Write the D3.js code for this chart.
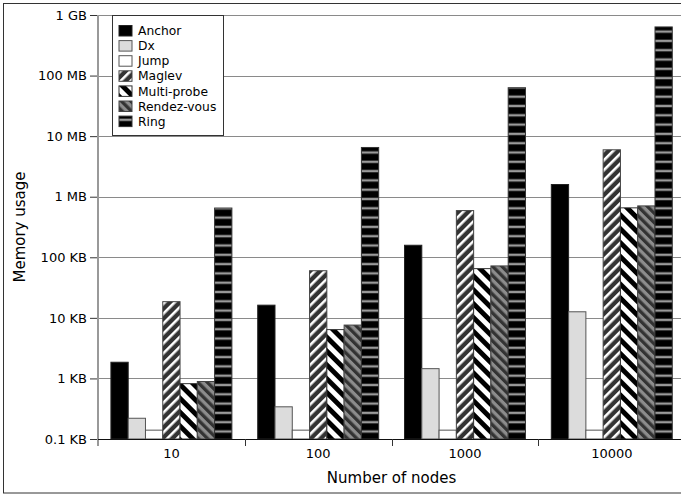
<!DOCTYPE html>
<html>
<head>
<meta charset="utf-8">
<script src="https://cdn.jsdelivr.net/npm/d3@7"></script>
<style>
  body { margin: 0; background: #fff; }
  svg { display: block; }
  text { font-family: "DejaVu Sans", sans-serif; fill: #000; }
</style>
</head>
<body>
<svg id="chart" width="681" height="495"></svg>
<script>
// Memory usage per algorithm (values in KB), one entry per cluster size
const categories = ["10", "100", "1000", "10000"];
const seriesNames = ["Anchor", "Dx", "Jump", "Maglev", "Multi-probe", "Rendez-vous", "Ring"];
const anchor     = [1.85, 16.2, 158, 1590];
const dx         = [0.22, 0.34, 1.45, 12.6];
const jump       = [0.14, 0.14, 0.14, 0.14];
const maglev     = [18.5, 60, 590, 5950];
const multiProbe = [0.82, 6.4, 65, 655];
const rendezVous = [0.89, 7.6, 72, 705];
const ring       = [650, 6500, 63000, 635000];
const yTicks      = [0.1, 1, 10, 100, 1e3, 1e4, 1e5, 1e6];
const yTickLabels = ["0.1 KB", "1 KB", "10 KB", "100 KB", "1 MB", "10 MB", "100 MB", "1 GB"];

const seriesValues = [anchor, dx, jump, maglev, multiProbe, rendezVous, ring];
const series = seriesNames.map((name, i) => ({ name, values: seriesValues[i] }));

const svg = d3.select("#chart");
const plot = { left: 98, right: 685.2, top: 15, bottom: 439 };

// Fill styles
const defs = svg.append("defs");
function stripes(id, size, angle, bg, fg, fgWidth) {
  const p = defs.append("pattern")
    .attr("id", id).attr("patternUnits", "userSpaceOnUse")
    .attr("width", size).attr("height", size)
    .attr("patternTransform", `rotate(${angle})`);
  p.append("rect").attr("width", size).attr("height", size).attr("fill", bg);
  p.append("rect").attr("width", fgWidth).attr("height", size).attr("fill", fg);
}
stripes("pat-maglev", 7, 45, "#333", "#fff", 2.6);
stripes("pat-multi", 9.8, -45, "#fff", "#000", 4.9);
stripes("pat-rendez", 6.6, -45, "#8c8c8c", "#333", 3.3);
const ringPat = defs.append("pattern")
  .attr("id", "pat-ring").attr("patternUnits", "userSpaceOnUse")
  .attr("width", 10).attr("height", 9.3);
ringPat.append("rect").attr("width", 10).attr("height", 9.3).attr("fill", "#000");
ringPat.append("rect").attr("y", 2.5).attr("width", 10).attr("height", 2.4).attr("fill", "#9a9a9a");

const fills = {
  "Anchor": "#000",
  "Dx": "#dcdcdc",
  "Jump": "#fff",
  "Maglev": "url(#pat-maglev)",
  "Multi-probe": "url(#pat-multi)",
  "Rendez-vous": "url(#pat-rendez)",
  "Ring": "url(#pat-ring)"
};
const strokes = {
  "Anchor": "#222", "Dx": "#555", "Jump": "#555", "Maglev": "#444",
  "Multi-probe": "#333", "Rendez-vous": "#444", "Ring": "#333"
};

// Scales
const x = d3.scaleBand().domain(categories)
  .range([plot.left, plot.right]).paddingInner(0.176).paddingOuter(0.088);
const xs = d3.scaleBand().domain(seriesNames).range([0, x.bandwidth()]);
const y = d3.scaleLog().domain([0.1, 1e6]).range([plot.bottom, plot.top]);

// Outer frame
svg.append("rect")
  .attr("x", 3.5).attr("y", 3.5).attr("width", 700).attr("height", 489.5)
  .attr("fill", "none").attr("stroke", "#333").attr("stroke-width", 1);

// Horizontal grid
svg.append("g").selectAll("line")
  .data(yTicks.slice(1))
  .join("line")
  .attr("x1", plot.left).attr("x2", plot.right)
  .attr("y1", d => Math.round(y(d)) + 0.5).attr("y2", d => Math.round(y(d)) + 0.5)
  .attr("stroke", "#8a8a8a").attr("stroke-width", 1);

// Left axis spine
svg.append("line")
  .attr("x1", plot.left).attr("x2", plot.left)
  .attr("y1", plot.top).attr("y2", plot.bottom + 7)
  .attr("stroke", "#999").attr("stroke-width", 2);

// Y axis ticks and labels
const yAxis = svg.append("g")
  .attr("transform", `translate(${plot.left - 1},0)`)
  .call(d3.axisLeft(y).tickValues(yTicks)
    .tickFormat((d, i) => yTickLabels[i]).tickSize(7).tickPadding(3));
yAxis.select(".domain").remove();
yAxis.selectAll(".tick line").attr("stroke", "#333");
yAxis.selectAll(".tick text")
  .attr("font-family", "DejaVu Sans, sans-serif").attr("font-size", 13).attr("fill", "#000");

// Bars
const groups = svg.append("g").selectAll("g")
  .data(series)
  .join("g");
groups.selectAll("rect")
  .data(s => s.values.map((v, i) => ({ name: s.name, cat: categories[i], v })))
  .join("rect")
  .attr("x", d => x(d.cat) + xs(d.name))
  .attr("width", xs.bandwidth())
  .attr("y", d => y(d.v))
  .attr("height", d => plot.bottom - y(d.v))
  .attr("fill", d => fills[d.name])
  .attr("stroke", d => strokes[d.name])
  .attr("stroke-width", 1);

// Bottom axis line
svg.append("line")
  .attr("x1", plot.left).attr("x2", plot.right)
  .attr("y1", plot.bottom + 0.5).attr("y2", plot.bottom + 0.5)
  .attr("stroke", "#111").attr("stroke-width", 1.2);

// Category boundary ticks
const boundaries = categories.slice(1).map(c => x(c) - x.step() * x.paddingInner() / 2);
svg.append("g").selectAll("line")
  .data(boundaries)
  .join("line")
  .attr("x1", d => Math.round(d) + 0.5).attr("x2", d => Math.round(d) + 0.5)
  .attr("y1", plot.bottom).attr("y2", plot.bottom + 7)
  .attr("stroke", "#333");

// Category labels
const xAxis = svg.append("g")
  .attr("transform", `translate(0,${plot.bottom})`)
  .call(d3.axisBottom(x).tickSize(0).tickPadding(10));
xAxis.select(".domain").remove();
xAxis.selectAll(".tick text")
  .attr("font-family", "DejaVu Sans, sans-serif").attr("font-size", 13).attr("fill", "#000");

// Axis titles
svg.append("text")
  .attr("x", (plot.left + plot.right) / 2).attr("y", 478)
  .attr("text-anchor", "middle").attr("dy", "0.35em")
  .attr("font-size", 15).text("Number of nodes");
svg.append("text")
  .attr("transform", `translate(20,${(plot.top + plot.bottom) / 2}) rotate(-90)`)
  .attr("text-anchor", "middle").attr("dy", "0.35em")
  .attr("font-size", 15).text("Memory usage");

// Legend
const legend = svg.append("g");
legend.append("rect")
  .attr("x", 112.5).attr("y", 15.5).attr("width", 111).attr("height", 120)
  .attr("fill", "#fff").attr("stroke", "#333");
const item = legend.selectAll("g.item")
  .data(series)
  .join("g").attr("class", "item")
  .attr("transform", (d, i) => `translate(119,${25.5 + i * 15.1})`);
item.append("rect")
  .attr("width", 13).attr("height", 10.5)
  .attr("fill", d => fills[d.name]).attr("stroke", d => strokes[d.name]);
item.append("text")
  .attr("x", 19).attr("y", 5.3).attr("dy", "0.35em")
  .attr("font-size", 12.3).text(d => d.name);
</script>
</body>
</html>
